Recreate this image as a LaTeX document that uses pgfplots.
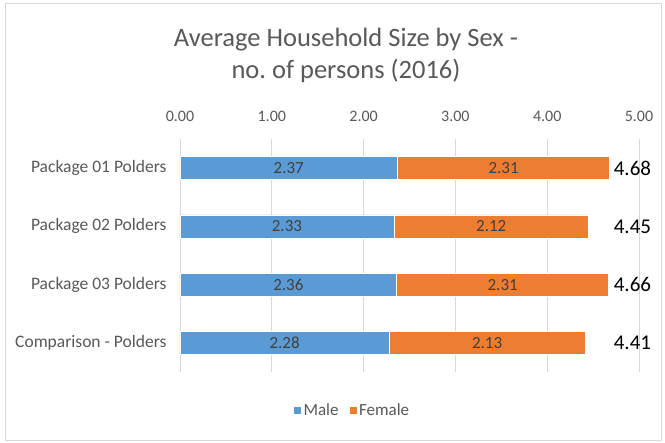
\documentclass[border=0pt]{standalone}
\usepackage{fontspec}
\setmainfont{Carlito}
\usepackage{pgfplots}
\usepackage{pgfplotstable}
\pgfplotsset{compat=1.18}
\pgfkeys{/pgf/number format/assume math mode=true}
\definecolor{txtgray}{HTML}{595959}
\definecolor{lblgray}{HTML}{404040}
\definecolor{male}{HTML}{5B9BD5}
\definecolor{female}{HTML}{ED7D31}
\pgfplotstableread{
idx male female total
0 2.37 2.31 4.68
1 2.33 2.12 4.45
2 2.36 2.31 4.66
3 2.28 2.13 4.41
}\hhdata
\begin{document}
\begin{tikzpicture}[x=1pt,y=1pt]
\fill[white] (0,0) rectangle (665,443);
\draw[gray!30, line width=1pt] (5,2.5) rectangle (661,439.5);
\node[font=\fontsize{26.5}{30}\selectfont, text=txtgray, align=center] at (346,388) {Average Household Size by Sex -\\[2pt]no.\ of persons (2016)};
\begin{axis}[
  at={(180pt,71pt)}, anchor=south west,
  width=459pt, height=233pt, scale only axis,
  xbar stacked, bar width=23pt,
  xmin=0, xmax=5, ymin=-0.5, ymax=3.5, y dir=reverse,
  xtick={0,1,2,3,4,5},
  xticklabel pos=upper,
  xticklabel={\pgfmathprintnumber[fixed,fixed zerofill,precision=2]{\tick}},
  xticklabel style={font=\fontsize{16}{18}\selectfont, text=txtgray, yshift=14pt},
  ytick={0,1,2,3},
  yticklabels={Package 01 Polders, Package 02 Polders, Package 03 Polders, Comparison - Polders},
  yticklabel style={font=\fontsize{17.5}{20}\selectfont, text=txtgray, xshift=-10pt},
  axis line style={draw=none},
  major tick length=0pt,
  xmajorgrids, grid style={gray!30, line width=0.8pt},
  legend style={at={(0.375,-0.163)}, anchor=center, legend columns=2, draw=none, fill=none, font=\fontsize{17}{19}\selectfont, text=txtgray, /tikz/every even column/.append style={column sep=8pt}},
  legend image code/.code={\fill[#1] (0pt,-4pt) rectangle (8pt,4pt);},
]
\addplot[fill=male, draw=white, line width=0.5pt] table[x=male, y=idx] {\hhdata};
\addlegendentry{Male}
\addplot[fill=female, draw=white, line width=0.5pt] table[x=female, y=idx] {\hhdata};
\addlegendentry{Female}
\end{axis}
\begin{axis}[
  at={(180pt,71pt)}, anchor=south west,
  width=459pt, height=233pt, scale only axis,
  xmin=0, xmax=5, ymin=-0.5, ymax=3.5, y dir=reverse,
  hide axis, clip=false,
  nodes near coords={\pgfmathprintnumber[fixed,fixed zerofill,precision=2]{\pgfplotspointmeta}},
]
\addplot[draw=none, mark=none, point meta=explicit,
  nodes near coords style={anchor=center, font=\fontsize{17}{19}\selectfont, text=lblgray}]
  table[x expr=\thisrow{male}/2, y=idx, meta=male] {\hhdata};
\addplot[draw=none, mark=none, point meta=explicit,
  nodes near coords style={anchor=center, font=\fontsize{17}{19}\selectfont, text=lblgray}]
  table[x expr=\thisrow{male}+\thisrow{female}/2, y=idx, meta=female] {\hhdata};
\addplot[draw=none, mark=none, point meta=explicit,
  nodes near coords style={anchor=east, font=\fontsize{21}{24}\selectfont, text=black}]
  table[x expr=5.17, y=idx, meta=total] {\hhdata};
\end{axis}
\end{tikzpicture}
\end{document}
